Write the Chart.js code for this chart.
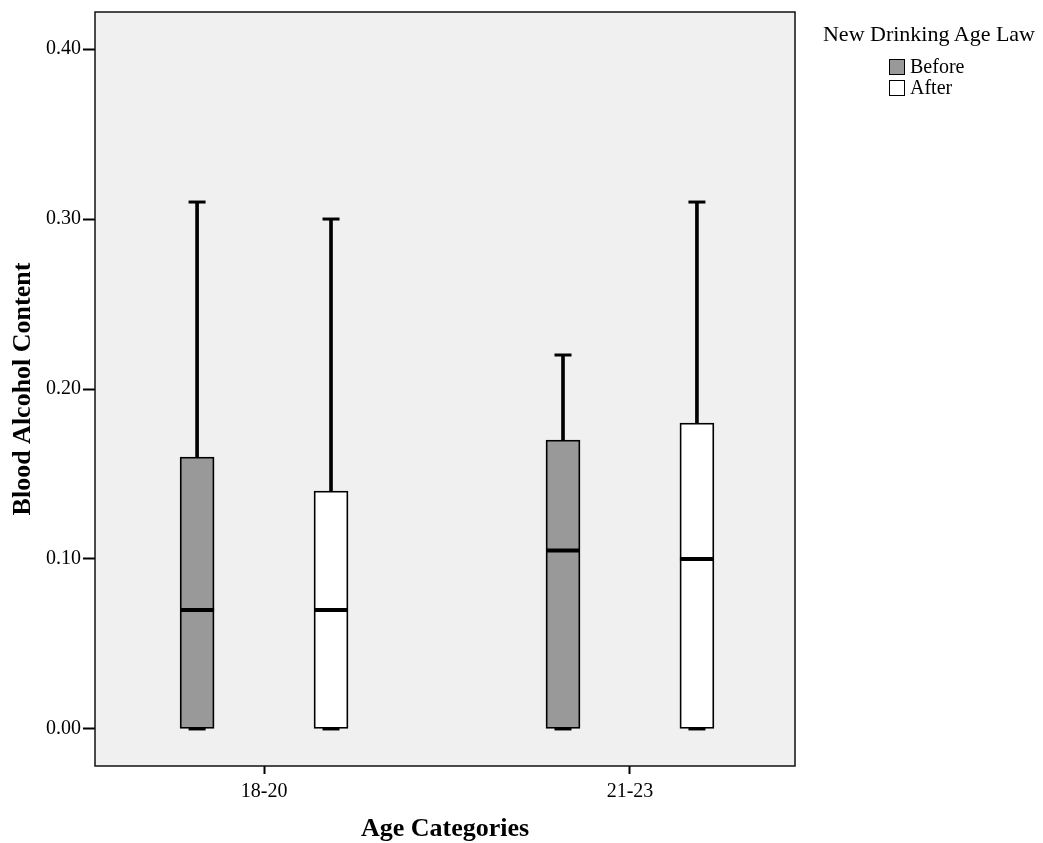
<!DOCTYPE html>
<html>
<head>
<meta charset="utf-8">
<script src="https://cdn.jsdelivr.net/npm/chart.js@4.4.1/dist/chart.umd.min.js"></script>
<style>
  body { margin: 0; background: #fff; }
  #wrap { position: relative; width: 1043px; height: 843px; }
  #legend { position: absolute; left: 812px; top: 21px; width: 234px; font-family: "Liberation Serif", "Times New Roman", serif; color: #000; }
  #legend .title { font-size: 22px; text-align: center; line-height: 26px; }
  #legend ul { list-style: none; margin: 9px 0 0 77px; padding: 0; }
  #legend li { font-size: 20px; line-height: 21px; height: 21px; display: flex; align-items: center; }
  #legend .box { width: 14px; height: 14px; border: 1.5px solid #000; margin-right: 5px; }
</style>
</head>
<body>
<div id="wrap">
  <canvas id="chart" width="1043" height="843"></canvas>
  <div id="legend"></div>
</div>
<script>
// data
const categories = ['18-20', '21-23'];
const groups = ['Before', 'After'];
const groupColors = ['#999999', '#ffffff'];

const beforeMin = [0, 0];
const beforeQ1 = [0, 0];
const beforeMedian = [0.07, 0.105];
const beforeQ3 = [0.16, 0.17];
const beforeMax = [0.31, 0.22];

const afterMin = [0, 0];
const afterQ1 = [0, 0];
const afterMedian = [0.07, 0.10];
const afterQ3 = [0.14, 0.18];
const afterMax = [0.30, 0.31];

const yTicks = [0, 0.1, 0.2, 0.3, 0.4];

const stats = [
  { min: beforeMin, q1: beforeQ1, median: beforeMedian, q3: beforeQ3, max: beforeMax },
  { min: afterMin, q1: afterQ1, median: afterMedian, q3: afterQ3, max: afterMax }
];

// side-by-side offset of the two boxes inside a category (in category units)
const groupOffset = [-0.183, 0.183];
const xPos = (g, i) => i + 1 + groupOffset[g];

const FONT = '"Liberation Serif", "Times New Roman", serif';

const datasets = [];
stats.forEach((s, g) => {
  // box from q1 to q3
  datasets.push({
    type: 'bar',
    label: groups[g],
    data: categories.map((c, i) => ({ x: xPos(g, i), y: [s.q1[i], s.q3[i]] })),
    backgroundColor: groupColors[g],
    borderColor: '#000',
    borderWidth: 1.8,
    borderSkipped: false,
    barThickness: 34,
    grouped: false,
    order: 2
  });
  // upper whisker
  datasets.push({
    type: 'bar',
    label: groups[g] + ' whisker',
    data: categories.map((c, i) => ({ x: xPos(g, i), y: [s.q3[i], s.max[i]] })),
    backgroundColor: '#000',
    borderWidth: 0,
    barThickness: 3,
    grouped: false,
    order: 3
  });
  // whisker caps at min and max
  datasets.push({
    type: 'scatter',
    label: groups[g] + ' caps',
    data: categories.flatMap((c, i) => [
      { x: xPos(g, i), y: s.max[i] },
      { x: xPos(g, i), y: s.min[i] }
    ]),
    pointStyle: 'line',
    pointRadius: 8.5,
    borderColor: '#000',
    borderWidth: 3,
    order: 1
  });
  // median
  datasets.push({
    type: 'scatter',
    label: groups[g] + ' median',
    data: categories.map((c, i) => ({ x: xPos(g, i), y: s.median[i] })),
    pointStyle: 'line',
    pointRadius: 17,
    borderColor: '#000',
    borderWidth: 4,
    order: 0
  });
});

// grey plot background and frame
const plotFrame = {
  id: 'plotFrame',
  beforeDatasetsDraw(chart) {
    const { ctx, chartArea: a } = chart;
    ctx.save();
    ctx.fillStyle = '#f0f0f0';
    ctx.fillRect(a.left, a.top, a.right - a.left, a.bottom - a.top);
    ctx.restore();
  },
  afterDatasetsDraw(chart) {
    const { ctx, chartArea: a } = chart;
    ctx.save();
    ctx.strokeStyle = '#111';
    ctx.lineWidth = 1.5;
    ctx.strokeRect(a.left, a.top, a.right - a.left, a.bottom - a.top);
    ctx.restore();
  }
};

new Chart(document.getElementById('chart'), {
  type: 'bar',
  data: { datasets },
  plugins: [plotFrame],
  options: {
    responsive: false,
    animation: false,
    layout: { autoPadding: false, padding: { top: 12, right: 248, left: 0, bottom: 0 } },
    plugins: {
      legend: { display: false },
      tooltip: { enabled: false }
    },
    scales: {
      x: {
        type: 'linear',
        offset: false,
        min: 0.538,
        max: 2.451,
        afterBuildTicks: (scale) => { scale.ticks = categories.map((c, i) => ({ value: i + 1 })); },
        afterFit: (scale) => { scale.height = 77; scale.paddingLeft = 0; scale.paddingRight = 0; },
        grid: { drawOnChartArea: false, offset: false, tickLength: 8, tickWidth: 2, tickColor: '#000' },
        border: { display: false },
        ticks: {
          color: '#000',
          padding: 6,
          font: { family: FONT, size: 20 },
          callback: (v) => categories[v - 1]
        },
        title: {
          display: true,
          text: 'Age Categories',
          color: '#000',
          font: { family: FONT, size: 26, weight: 'bold', lineHeight: 1 },
          padding: { top: 0, bottom: 1 }
        }
      },
      y: {
        min: -0.0218,
        max: 0.4218,
        afterBuildTicks: (scale) => { scale.ticks = yTicks.map(v => ({ value: v })); },
        afterFit: (scale) => { scale.width = 95; scale.paddingTop = 0; scale.paddingBottom = 0; },
        grid: { drawOnChartArea: false, tickLength: 12, tickWidth: 2, tickColor: '#000' },
        border: { display: false },
        ticks: {
          color: '#000',
          padding: 2,
          font: { family: FONT, size: 20 },
          callback: (v) => v.toFixed(2)
        },
        title: {
          display: true,
          text: 'Blood Alcohol Content',
          color: '#000',
          font: { family: FONT, size: 26, weight: 'bold', lineHeight: 1 },
          padding: { top: 10, bottom: 0 }
        }
      }
    }
  }
});

// legend
const legend = document.getElementById('legend');
legend.innerHTML = '<div class="title">New Drinking Age Law</div><ul>' +
  groups.map((g, i) => `<li><span class="box" style="background:${groupColors[i]}"></span>${g}</li>`).join('') +
  '</ul>';
</script>
</body>
</html>
